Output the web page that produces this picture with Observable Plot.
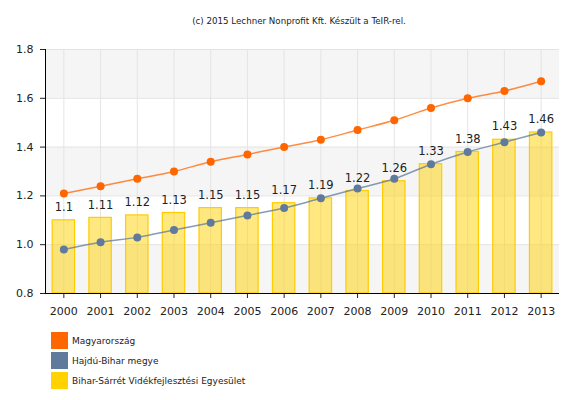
<!DOCTYPE html>
<html>
<head>
<meta charset="utf-8">
<script src="https://cdn.jsdelivr.net/npm/d3@7"></script>
<script src="https://cdn.jsdelivr.net/npm/@observablehq/plot@0.6"></script>
<style>
  body { margin: 0; background: #fff; font-family: "DejaVu Sans", sans-serif; }
  #wrap { position: relative; width: 580px; height: 400px; }
  #title { position: absolute; left: 0; top: 0; width: 580px; height: 40px; line-height: 42px; text-align: center; font-size: 8.7px; color: #222; padding-left: 18px; box-sizing: border-box; }
  #chart { position: absolute; left: 0; top: 40px; }
  #legend { position: absolute; left: 51px; top: 332px; font-size: 9px; color: #222; }
  .item { display: flex; align-items: center; height: 17px; margin-bottom: 3px; }
  .sw { width: 17px; height: 17px; margin-right: 4px; }
</style>
</head>
<body>
<div id="wrap">
  <div id="title"></div>
  <div id="chart"></div>
  <div id="legend"></div>
</div>
<script>
const titleText = "(c) 2015 Lechner Nonprofit Kft. Készült a TeIR-rel.";
const years = ["2000","2001","2002","2003","2004","2005","2006","2007","2008","2009","2010","2011","2012","2013"];
const magyarorszag = [1.21,1.24,1.27,1.30,1.34,1.37,1.40,1.43,1.47,1.51,1.56,1.60,1.63,1.67];
const hajduBihar = [0.98,1.01,1.03,1.06,1.09,1.12,1.15,1.19,1.23,1.27,1.33,1.38,1.42,1.46];
const biharSarret = [1.1,1.11,1.12,1.13,1.15,1.15,1.17,1.19,1.22,1.26,1.33,1.38,1.43,1.46];
const seriesNames = ["Magyarország","Hajdú-Bihar megye","Bihar-Sárrét Vidékfejlesztési Egyesület"];
const seriesColors = ["#ff6600","#5f7a9c","#ffd200"];
const yTicks = [0.8,1.0,1.2,1.4,1.6,1.8];

const bars = years.map((y,i)=>({year:y, v:biharSarret[i]}));
const lineA = years.map((y,i)=>({year:y, v:magyarorszag[i]}));
const lineB = years.map((y,i)=>({year:y, v:hajduBihar[i]}));
const bands = [];
for (let i = 0; i < yTicks.length - 1; i += 2) bands.push({lo: yTicks[i], hi: yTicks[i+1]});

document.getElementById("title").textContent = titleText;

const plot = Plot.plot({
  width: 580,
  height: 292,
  marginTop: 9,
  marginBottom: 39,
  marginLeft: 45,
  marginRight: 21,
  style: {fontFamily: "DejaVu Sans, sans-serif", fontSize: "11px", color: "#222", background: "transparent"},
  x: {type: "band", domain: years, paddingInner: 0.39, paddingOuter: 0.195, align: 0.5, round: false, label: null},
  y: {domain: [0.8, 1.8], label: null},
  marks: [
    Plot.rect(bands, {y1: "lo", y2: "hi", fill: "#f5f5f5"}),
    Plot.ruleY(yTicks, {stroke: "#e4e4e4"}),
    Plot.ruleX(years, {stroke: "#e4e4e4"}),
    Plot.barY(bars, {x: "year", y1: 0.8, y2: "v", fill: "#ffd200", fillOpacity: 0.5, stroke: "#ffcc00", strokeWidth: 1.2}),
    Plot.text(bars, {x: "year", y: "v", dy: -13, text: d => String(d.v), fill: "#222", fontSize: 11.5}),
    Plot.line(lineA, {x: "year", y: "v", stroke: "#ff6600", strokeOpacity: 0.75, strokeWidth: 1.5, curve: "monotone-x"}),
    Plot.dot(lineA, {x: "year", y: "v", r: 4, fill: "#ff6600", stroke: "none"}),
    Plot.line(lineB, {x: "year", y: "v", stroke: "#5f7a9c", strokeOpacity: 0.75, strokeWidth: 1.5, curve: "monotone-x"}),
    Plot.dot(lineB, {x: "year", y: "v", r: 4, fill: "#5f7a9c", stroke: "none"}),
    Plot.axisY({ticks: yTicks, tickFormat: d3.format(".1f"), tickSize: 5, tickPadding: 7, label: null, fontSize: 11}),
    Plot.axisX({tickSize: 5, tickPadding: 9, label: null, fontSize: 11}),
    Plot.ruleY([0.8], {stroke: "#000"}),
    Plot.frame({anchor: "left", stroke: "#000"})
  ]
});
document.getElementById("chart").appendChild(plot);

const legend = document.getElementById("legend");
seriesNames.forEach((n, i) => {
  const it = document.createElement("div");
  it.className = "item";
  const sw = document.createElement("div");
  sw.className = "sw";
  sw.style.background = seriesColors[i];
  const t = document.createElement("span");
  t.textContent = n;
  it.appendChild(sw); it.appendChild(t);
  legend.appendChild(it);
});
</script>
</body>
</html>
